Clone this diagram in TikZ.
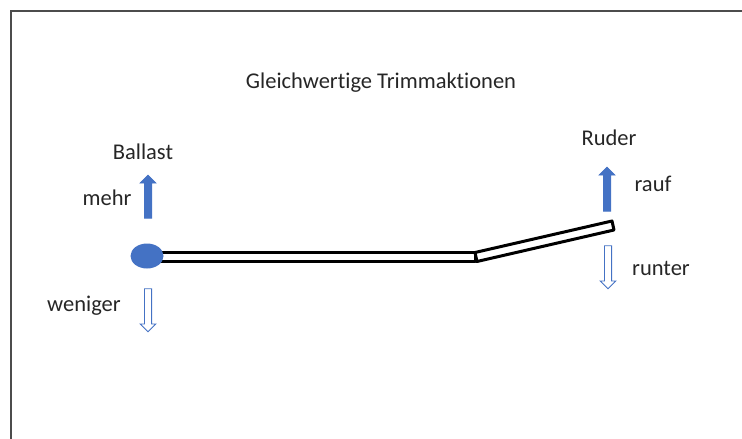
\documentclass[tikz,border=0pt]{standalone}
\usepackage{fontspec}
\setmainfont{Carlito}[Ligatures=NoCommon]
\usetikzlibrary{shapes.arrows,shapes.geometric}
\definecolor{trimblue}{HTML}{4472C4}
\tikzstyle{txt} = [anchor=base,inner sep=0,font=\fontsize{22.5}{27}\selectfont,text=black!85]
\tikzstyle{blockarrow} = [single arrow,draw=trimblue,line width=0.8,inner sep=3.2,minimum width=15,single arrow head indent=0,single arrow head extend=4.2]
\tikzstyle{uparrow} = [blockarrow,fill=trimblue,shape border rotate=90]
\tikzstyle{downarrow} = [blockarrow,fill=white,shape border rotate=270]
\tikzstyle{beam} = [line width=3,line join=round,fill=white]

\begin{document}
\begin{tikzpicture}[x=1pt,y=-1pt]
    \useasboundingbox (0,0) rectangle (742,439);
    \draw [line width=2,black!70] (11,439) -- (11,11) -- (742,11);

    \node [txt] (title) at (381,88) {Gleichwertige Trimmaktionen};

    % Ballast side
    \node [txt] (ballast) at (143,159) {Ballast};
    \node [uparrow,minimum height=43] (mehrpfeil) at (148,198.5) {};
    \node [txt] (mehr) at (107,205) {mehr};
    \node [downarrow,minimum height=43] (wenigerpfeil) at (148,308.5) {};
    \node [txt] (weniger) at (84,311) {weniger};

    % beam with rudder
    \draw [beam] (160,252.5) rectangle (475,261.5);
    \draw [beam] (475,252.5) -- (612,221) -- (614,230) -- (477,261.5) -- cycle;
    \node [ellipse,fill=trimblue,minimum width=33,minimum height=25,inner sep=0] (ball) at (147,256) {};

    % Ruder side
    \node [txt] (ruder) at (609,145) {Ruder};
    \node [uparrow,minimum height=44] (raufpfeil) at (607,191) {};
    \node [txt] (rauf) at (653,191) {rauf};
    \node [downarrow,minimum height=43] (runterpfeil) at (608,265.5) {};
    \node [txt] (runter) at (661,275) {runter};
\end{tikzpicture}
\end{document}
